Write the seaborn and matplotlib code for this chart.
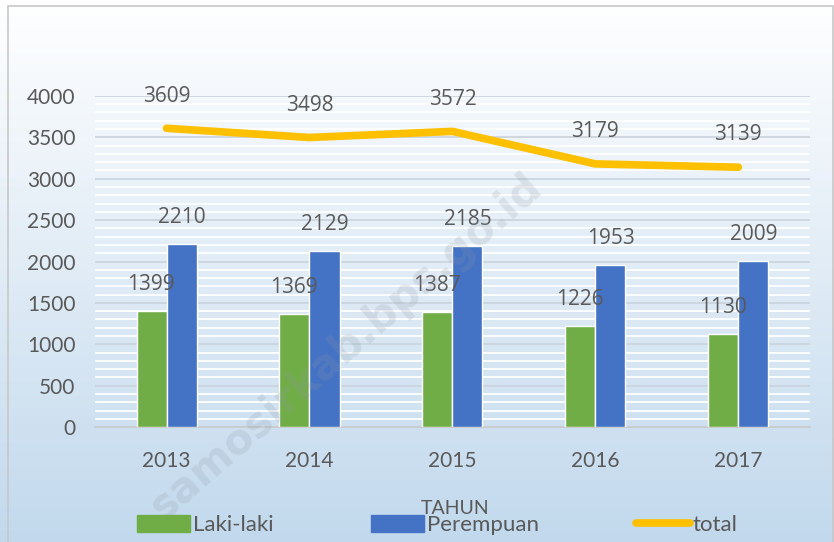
import numpy as np
import pandas as pd
import matplotlib
matplotlib.use("Agg")
import matplotlib.pyplot as plt
import matplotlib.patches as mpatches
import matplotlib.lines as mlines
import seaborn as sns

years = ["2013", "2014", "2015", "2016", "2017"]
laki = [1399, 1369, 1387, 1226, 1130]
perempuan = [2210, 2129, 2185, 1953, 2009]
total = [3609, 3498, 3572, 3179, 3139]
series_names = ["Laki-laki", "Perempuan", "total"]
x_title = "TAHUN"

GREEN = "#70AD47"
BLUE = "#4472C4"
GOLD = "#FFC000"
TXT = "#595959"

sns.set_theme(style="white")
plt.rcParams["font.family"] = ["Lato", "DejaVu Sans"]

fig = plt.figure(figsize=(8.34, 5.42), dpi=100)

# background gradient
bg = fig.add_axes([0, 0, 1, 1], zorder=-10)
grad = np.linspace(0, 1, 256)[:, None]
top = np.array([1.0, 1.0, 1.0])
bot = np.array([0.76, 0.85, 0.93])
img = top[None, None, :] * (1 - grad[:, :, None]) + bot[None, None, :] * grad[:, :, None]
bg.imshow(img, aspect="auto", extent=[0, 1, 0, 1], origin="upper")
bg.set_axis_off()
bg.add_patch(mpatches.Rectangle((0.009, -0.01), 0.99, 0.999, fill=False,
                                edgecolor="#c8c8c8", lw=1.2, transform=bg.transAxes))

ax = fig.add_axes([0.114, 0.212, 0.857, 0.611])
ax.set_facecolor("none")

df = pd.DataFrame({
    "Tahun": years * 2,
    "Jumlah": laki + perempuan,
    "Jenis": [series_names[0]] * 5 + [series_names[1]] * 5,
})
sns.barplot(data=df, x="Tahun", y="Jumlah", hue="Jenis",
            palette=[GREEN, BLUE], width=0.42, ax=ax, legend=False,
            saturation=1, zorder=3)
sns.lineplot(x=np.arange(len(years)), y=total, color=GOLD, lw=5.5,
             ax=ax, zorder=4, solid_capstyle="round")

# gridlines: minor white, major gray
for v in np.arange(100, 4001, 100):
    if v % 500 == 0:
        ax.axhline(v, color="#c9d3dc", lw=1.2, zorder=1)
    else:
        ax.axhline(v, color="white", lw=1.3, zorder=1)

ax.set_ylim(0, 4000)
ax.set_xlim(-0.5, 4.5)
ax.set_yticks(np.arange(0, 4001, 500))
ax.tick_params(axis="y", labelsize=15, colors=TXT, length=0, pad=14)
ax.tick_params(axis="x", labelsize=15, colors=TXT, length=0, pad=17)
ax.set_xticks(np.arange(-0.5, 4.6, 1), minor=True)
ax.tick_params(axis="x", which="minor", length=5, color="#c8c8c8", direction="out")
for s in ["top", "right", "left"]:
    ax.spines[s].set_visible(False)
ax.spines["bottom"].set_color("#c8c8c8")
ax.spines["bottom"].set_linewidth(1.2)
ax.set_xlabel("")
ax.set_ylabel("")

# data labels
lab_font = ["Open Sans", "DejaVu Sans"]
for i in range(len(years)):
    ax.text(i - 0.11, laki[i] + 320, str(laki[i]), ha="center", va="center",
            fontsize=15, color=TXT, family=lab_font, zorder=5, clip_on=False)
    ax.text(i + 0.11, perempuan[i] + 320, str(perempuan[i]), ha="center", va="center",
            fontsize=15, color=TXT, family=lab_font, zorder=5, clip_on=False)
    ax.text(i, total[i] + 390, str(total[i]), ha="center", va="center",
            fontsize=15, color=TXT, family=lab_font, zorder=5, clip_on=False)

fig.text(0.546, 0.062, x_title, ha="center", va="center", fontsize=14, color=TXT)

handles = [mpatches.Patch(color=GREEN, label=series_names[0]),
           mpatches.Patch(color=BLUE, label=series_names[1]),
           mlines.Line2D([], [], color=GOLD, lw=5.5, solid_capstyle="round", label=series_names[2])]
leg = fig.legend(handles=handles, loc="center", bbox_to_anchor=(0.524, 0.031), ncol=3,
                 frameon=False, fontsize=16, handlelength=2.4, handleheight=0.75,
                 handletextpad=0.1, columnspacing=4.4, labelcolor=TXT)

fig.text(0.415, 0.36, "samosirkab.bps.go.id", rotation=41, ha="center", va="center",
         fontsize=30, fontweight="bold", color="#8d99a6", alpha=0.2, family=["DejaVu Sans"])

fig.savefig("out.png", dpi=100)
